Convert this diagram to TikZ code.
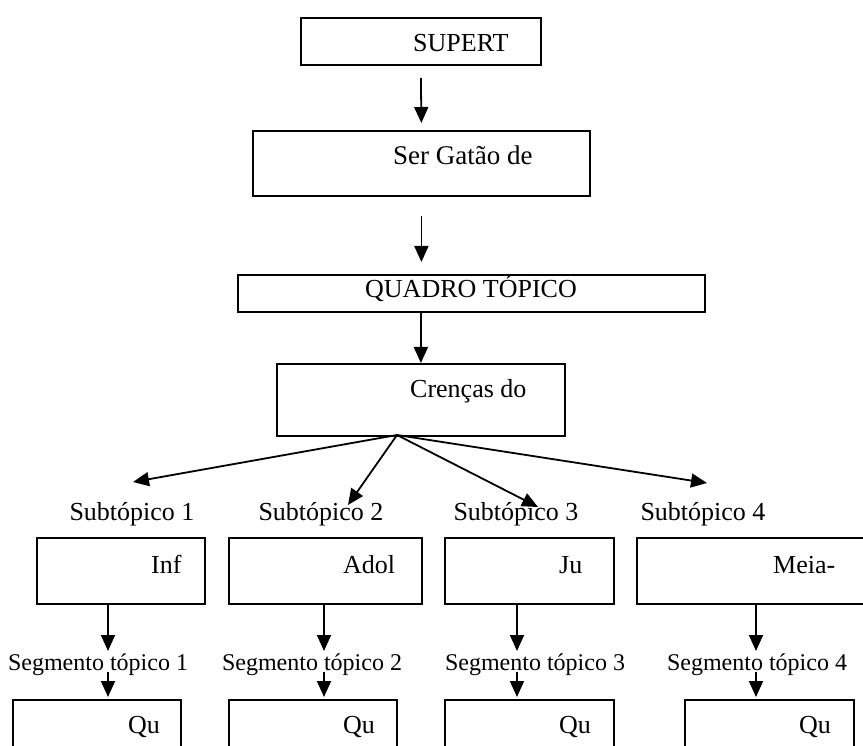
\documentclass[tikz,border=0pt]{standalone}
\usepackage{fontspec}
\setmainfont{Liberation Serif}
\usetikzlibrary{arrows.meta,positioning,calc}

\begin{document}
\begin{tikzpicture}[
  x=1pt, y=-1pt,
  font=\fontsize{26}{30}\selectfont,
  >={Triangle[length=16pt,width=14pt]},
  box/.style={draw, line width=1.8pt, inner sep=0pt, anchor=north west},
  txt/.style={inner sep=0pt, anchor=base west},
  sub/.style={inner sep=0pt, anchor=base},
  seg/.style={inner sep=0pt, anchor=base, font=\fontsize{24}{28}\selectfont},
  arrow/.style={->, line width=1.8pt},
]
\clip (0,0) rectangle (863,746);

% main chain
\node[box, minimum width=240pt, minimum height=47pt] (supert) at (300,17) {};
\node[txt] (supertT) at (413,52) {SUPERT};
\node[box, minimum width=337pt, minimum height=65pt] (gatao) at (252,130) {};
\node[txt, font=\fontsize{27}{30}\selectfont] (gataoT) at (393,165) {Ser Gatão de};
\node[box, minimum width=467pt, minimum height=37pt] (quadro) at (237,274) {};
\node[sub] (quadroT) at (471,298) {QUADRO TÓPICO};
\node[box, minimum width=288pt, minimum height=72pt] (crencas) at (276,363) {};
\node[txt] (crencasT) at (410,397) {Crenças do};

\draw[arrow] ($(supert.south)+(0,12)$) -- ($(gatao.north)+(0,-7)$);
\draw[arrow] ($(gatao.south)+(0,19)$) -- ($(quadro.north -| gatao.south)+(0,-12)$);
\draw[arrow] (quadro.south -| crencas.north) -- (crencas.north);

% subtopics
\node[sub] (sub1) at (132,520) {Subtópico 1};
\node[sub] (sub2) at (321,520) {Subtópico 2};
\node[sub] (sub3) at (516,520) {Subtópico 3};
\node[sub] (sub4) at (703,520) {Subtópico 4};

\coordinate (fan) at (397,435);
\coordinate (tip1) at (133,482);
\coordinate (tip2) at (348,505);
\coordinate (tip3) at (538,507);
\coordinate (tip4) at (707,483);
\draw[arrow] (fan) -- (tip1);
\draw[arrow] (fan) -- (tip2);
\draw[arrow] (fan) -- (tip3);
\draw[arrow] (fan) -- (tip4);

\node[box, minimum width=168pt, minimum height=66pt] (inf) at (36,537) {};
\node[txt] (infT) at (151,573) {Inf};
\node[box, minimum width=193pt, minimum height=66pt] (adol) at (228,537) {};
\node[txt] (adolT) at (343,573) {Adol};
\node[box, minimum width=169pt, minimum height=66pt] (ju) at (444,537) {};
\node[txt] (juT) at (559,573) {Ju};
\node[box, minimum width=234pt, minimum height=66pt] (meia) at (636,537) {};
\node[txt] (meiaT) at (773,573) {Meia-};

% segments
\node[seg] (seg1) at (98,670) {Segmento tópico 1};
\node[seg] (seg2) at (312,670) {Segmento tópico 2};
\node[seg] (seg3) at (535,670) {Segmento tópico 3};
\node[seg] (seg4) at (757,670) {Segmento tópico 4};

\node[box, minimum width=168pt, minimum height=70pt] (qu1) at (12,699) {};
\node[txt] (qu1T) at (128,733) {Qu};
\node[box, minimum width=168pt, minimum height=70pt] (qu2) at (228,699) {};
\node[txt] (qu2T) at (343,733) {Qu};
\node[box, minimum width=169pt, minimum height=70pt] (qu3) at (444,699) {};
\node[txt] (qu3T) at (559,733) {Qu};
\node[box, minimum width=169pt, minimum height=70pt] (qu4) at (684,699) {};
\node[txt] (qu4T) at (799,733) {Qu};

\draw[arrow] (108,0 |- inf.south) -- (108,651);
\draw[arrow] (324,0 |- adol.south) -- (324,651);
\draw[arrow] (517,0 |- ju.south) -- (517,651);
\draw[arrow] (756,0 |- meia.south) -- (756,651);
\draw[arrow] (108,672) -- ($(108,0 |- qu1.north)+(0,-2)$);
\draw[arrow] (324,672) -- ($(324,0 |- qu2.north)+(0,-2)$);
\draw[arrow] (517,672) -- ($(517,0 |- qu3.north)+(0,-2)$);
\draw[arrow] (756,672) -- ($(756,0 |- qu4.north)+(0,-2)$);

\end{tikzpicture}
\end{document}
